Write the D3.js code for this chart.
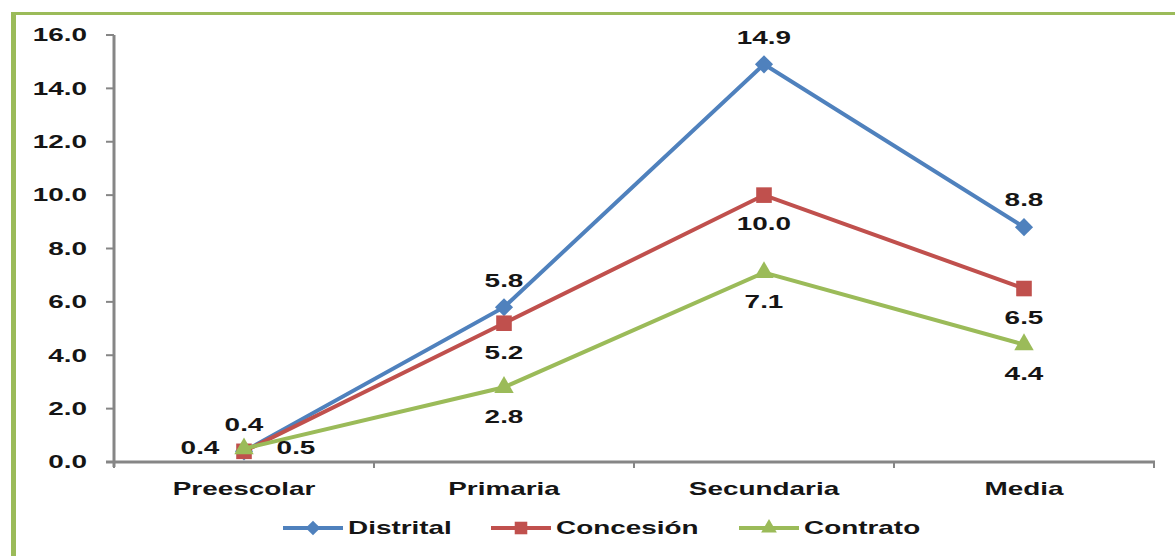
<!DOCTYPE html>
<html>
<meta charset="utf-8">
<style>
body { margin: 0; background: #fff; }
text { font-family: "Liberation Sans", Arial, sans-serif; font-weight: bold; fill: #151515; }
</style>
<body>
<script src="https://d3js.org/d3.v7.min.js"></script>
<script>
var width = 1175, height = 556;

var categories = ["Preescolar", "Primaria", "Secundaria", "Media"];
var distrital = [0.4, 5.8, 14.9, 8.8];
var concesion = [0.4, 5.2, 10.0, 6.5];
var contrato = [0.5, 2.8, 7.1, 4.4];
var yTicks = [0, 2, 4, 6, 8, 10, 12, 14, 16];

var series = [
  {name: "Distrital", values: distrital, color: "#4F81BD", marker: "diamond", pos: ["above", "above", "above", "above"]},
  {name: "Concesión", values: concesion, color: "#C0504D", marker: "square", pos: ["left", "below", "below", "below"]},
  {name: "Contrato", values: contrato, color: "#9BBB59", marker: "triangle", pos: ["right", "below", "below", "below"]}
];

var sx = 1.55; // text is stretched wide in the original

var svg = d3.select("body").append("svg")
    .attr("width", width)
    .attr("height", height);

// green frame lines
svg.append("rect").attr("x", 11).attr("y", 12).attr("width", width - 11).attr("height", 3).style("fill", "#9BBB59");
svg.append("rect").attr("x", 11).attr("y", 12).attr("width", 5).attr("height", height - 12).style("fill", "#9BBB59");

var x0 = 114, x1 = 1154;
var band = d3.scaleBand().domain(categories).range([x0, x1]);
var x = d3.scalePoint().domain(categories).range([x0, x1]).padding(0.5);
var y = d3.scaleLinear().domain([0, 16]).range([462, 35]);

function txt(g, s, tx, ty, anchor) {
  return g.append("text")
    .attr("transform", "translate(" + tx + "," + ty + ") scale(" + sx + ",1)")
    .attr("text-anchor", anchor || "middle")
    .attr("dy", "0.35em")
    .style("font-size", "18px")
    .text(s);
}

// y axis
var yAxis = svg.append("g");
yAxis.append("line").attr("x1", x0).attr("x2", x0).attr("y1", y(16)).attr("y2", y(0) + 5)
  .style("stroke", "#868686").style("stroke-width", 3);
yTicks.forEach(function(t) {
  yAxis.append("line").attr("x1", x0 - 8).attr("x2", x0).attr("y1", y(t)).attr("y2", y(t))
    .style("stroke", "#868686").style("stroke-width", 2);
  txt(yAxis, d3.format(".1f")(t), 87, y(t), "end");
});

// x axis
var xAxis = svg.append("g");
xAxis.append("line").attr("x1", x0 - 8).attr("x2", x1 + 1).attr("y1", y(0)).attr("y2", y(0))
  .style("stroke", "#868686").style("stroke-width", 3);
categories.concat([null]).forEach(function(c, i) {
  var px = c ? band(c) : x1;
  xAxis.append("line").attr("x1", px).attr("x2", px).attr("y1", y(0)).attr("y2", y(0) + 6)
    .style("stroke", "#868686").style("stroke-width", 2);
});
categories.forEach(function(c) {
  txt(xAxis, c, x(c), 489);
});

var line = d3.line()
  .x(function(d, i) { return x(categories[i]); })
  .y(function(d) { return y(d); });

function marker(g, type, cx, cy, color, k) {
  var p;
  k = k || 1;
  if (type === "diamond") p = d3.symbol().type(d3.symbolDiamond2).size(210 * k)();
  else if (type === "square") p = d3.symbol().type(d3.symbolSquare2).size(310 * k)();
  else p = d3.symbol().type(d3.symbolTriangle2).size(270 * k)();
  g.append("path").attr("d", p)
    .attr("transform", "translate(" + cx + "," + cy + ")")
    .style("fill", color);
}

series.forEach(function(s) {
  var g = svg.append("g");
  g.append("path").datum(s.values)
    .attr("d", line)
    .style("fill", "none")
    .style("stroke", s.color)
    .style("stroke-width", 4);
  s.values.forEach(function(v, i) {
    marker(g, s.marker, x(categories[i]), y(v), s.color);
  });
});

// data labels
series.forEach(function(s) {
  var g = svg.append("g");
  s.values.forEach(function(v, i) {
    var px = x(categories[i]), py = y(v);
    var p = s.pos[i];
    if (p === "above") txt(g, v.toFixed(1), px, py - 27);
    else if (p === "below") txt(g, v.toFixed(1), px, py + 29);
    else if (p === "left") txt(g, v.toFixed(1), px - 44, 448);
    else txt(g, v.toFixed(1), px + 52, 448);
  });
});

// legend
var legend = svg.append("g");
var legX = [283, 491, 739];
series.forEach(function(s, i) {
  var lx = legX[i], ly = 528;
  legend.append("line").attr("x1", lx).attr("x2", lx + 60).attr("y1", ly).attr("y2", ly)
    .style("stroke", s.color).style("stroke-width", 4);
  marker(legend, s.marker, lx + 30, ly, s.color, 0.65);
  txt(legend, s.name, lx + 65, ly, "start");
});
</script>
</body>
</html>
